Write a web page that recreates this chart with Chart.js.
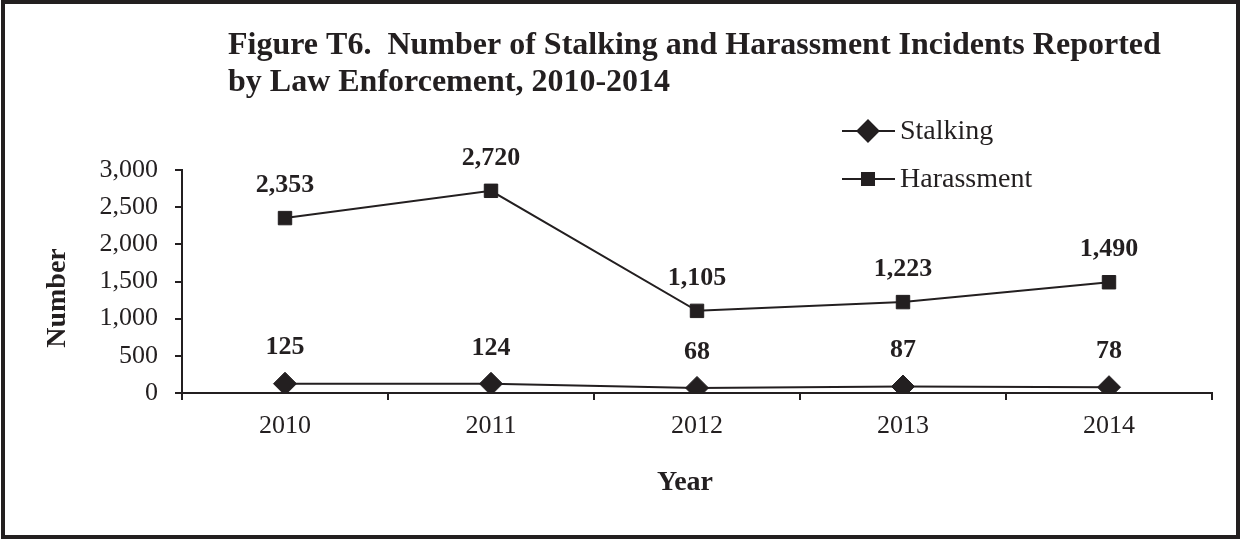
<!DOCTYPE html>
<html>
<head>
<meta charset="utf-8">
<script src="https://cdn.jsdelivr.net/npm/chart.js@4"></script>
<style>
  html, body { margin: 0; padding: 0; background: #fff; }
  #wrap { width: 1241px; height: 539px; position: relative; }
</style>
</head>
<body>
<div id="wrap"><canvas id="chart" width="1241" height="539"></canvas></div>
<script>
const years = ['2010', '2011', '2012', '2013', '2014'];
const stalking = [125, 124, 68, 87, 78];
const harassment = [2353, 2720, 1105, 1223, 1490];
const titleLines = ['Figure T6.  Number of Stalking and Harassment Incidents Reported', 'by Law Enforcement, 2010-2014'];

const ink = '#231f20';
const serif = '"Liberation Serif", "Times New Roman", serif';

function formatNumber(num) {
  return num.toLocaleString('en-US');
}

// frame, title, legend, axis titles and point labels
const decorations = {
  id: 'decorations',
  afterDraw(chart) {
    const ctx = chart.ctx;
    ctx.save();
    ctx.strokeStyle = ink;
    ctx.lineWidth = 4;
    ctx.strokeRect(3, 2, 1235, 535);

    ctx.fillStyle = ink;
    ctx.textAlign = 'left';
    ctx.textBaseline = 'alphabetic';
    ctx.font = 'bold 32px ' + serif;
    ctx.fillText(titleLines[0], 228, 54);
    ctx.fillText(titleLines[1], 228, 91);

    // legend
    ctx.font = '28px ' + serif;
    ctx.textBaseline = 'middle';
    chart.data.datasets.forEach((ds, i) => {
      const y = 131 + i * 48;
      ctx.strokeStyle = ink;
      ctx.lineWidth = 2;
      ctx.beginPath();
      ctx.moveTo(842, y);
      ctx.lineTo(895, y);
      ctx.stroke();
      Chart.helpers.drawPoint(ctx, {
        pointStyle: ds.pointStyle,
        radius: ds.pointRadius - 1,
        borderWidth: 1,
        rotation: 0
      }, 868, y);
      ctx.fillStyle = ink;
      ctx.fill();
      ctx.fillText(ds.label, 900, y + 1);
    });

    // axis titles
    ctx.font = 'bold 28px ' + serif;
    ctx.textAlign = 'center';
    ctx.fillText('Year', 685, 483);
    ctx.save();
    ctx.translate(58, 298);
    ctx.rotate(-Math.PI / 2);
    ctx.fillText('Number', 0, 0);
    ctx.restore();

    // value labels
    ctx.font = 'bold 26px ' + serif;
    chart.data.datasets.forEach((ds, i) => {
      const meta = chart.getDatasetMeta(i);
      meta.data.forEach((pt, j) => {
        ctx.fillText(formatNumber(ds.data[j]), pt.x, pt.y - ds.labelOffset);
      });
    });
    ctx.restore();
  }
};

new Chart(document.getElementById('chart'), {
  type: 'line',
  data: {
    labels: years,
    datasets: [{
      label: 'Stalking',
      data: stalking,
      borderColor: ink,
      backgroundColor: ink,
      borderWidth: 2,
      pointStyle: 'rectRot',
      pointRadius: 11.5,
      pointBorderWidth: 1,
      labelOffset: 36
    }, {
      label: 'Harassment',
      data: harassment,
      borderColor: ink,
      backgroundColor: ink,
      borderWidth: 2,
      pointStyle: 'rect',
      pointRadius: 9.5,
      pointBorderWidth: 1,
      labelOffset: 33
    }]
  },
  options: {
    responsive: false,
    animation: false,
    layout: { padding: { top: 170, right: 29, left: 0, bottom: 0 } },
    plugins: {
      legend: { display: false },
      title: { display: false },
      tooltip: { enabled: false }
    },
    scales: {
      x: {
        offset: true,
        grid: { offset: true, drawOnChartArea: false, tickLength: 7, lineWidth: 2, color: ink },
        border: { color: ink, width: 2 },
        ticks: { color: ink, font: { family: serif, size: 26 }, padding: 11 },
        afterFit: s => { s.height = 146; }
      },
      y: {
        min: 0,
        max: 3000,
        grid: { drawOnChartArea: false, tickLength: 7, lineWidth: 2, color: ink },
        border: { color: ink, width: 2 },
        ticks: {
          stepSize: 500,
          color: ink,
          font: { family: serif, size: 26 },
          padding: 17,
          callback: v => formatNumber(v)
        },
        afterFit: s => { s.width = 182; }
      }
    }
  },
  plugins: [decorations]
});
</script>
</body>
</html>
